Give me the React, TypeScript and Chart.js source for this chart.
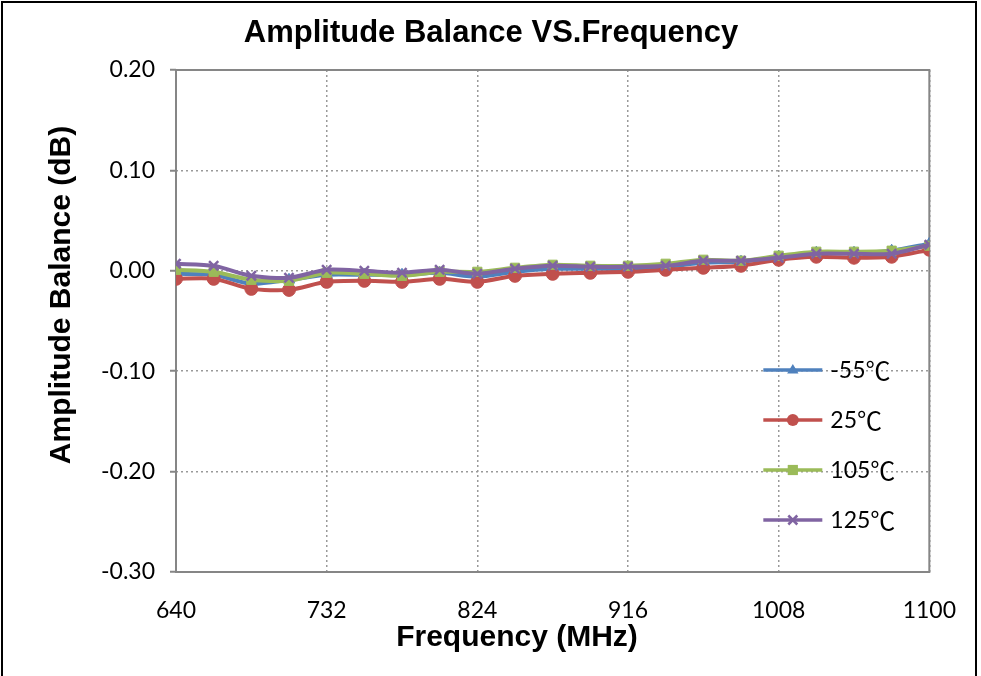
import React, { useEffect, useRef } from 'react';
import { Chart, registerables } from 'chart.js';

Chart.register(...registerables);

const frequencies = [640, 663, 686, 709, 732, 755, 778, 801, 824, 847, 870, 893, 916, 939, 962, 985, 1008, 1031, 1054, 1077, 1100];
const seriesM55 = [-0.003, -0.004, -0.013, -0.009, -0.004, -0.004, -0.004, -0.002, -0.006, -0.001, 0.002, 0.002, 0.002, 0.004, 0.008, 0.009, 0.014, 0.018, 0.018, 0.020, 0.027];
const series25 = [-0.008, -0.008, -0.018, -0.019, -0.011, -0.010, -0.011, -0.008, -0.011, -0.005, -0.003, -0.002, -0.001, 0.001, 0.003, 0.005, 0.011, 0.014, 0.013, 0.014, 0.021];
const series105 = [0.001, -0.001, -0.009, -0.010, -0.002, -0.003, -0.005, -0.001, -0.001, 0.003, 0.006, 0.005, 0.005, 0.007, 0.011, 0.010, 0.015, 0.019, 0.019, 0.020, 0.025];
const series125 = [0.007, 0.005, -0.005, -0.007, 0.001, 0.000, -0.002, 0.001, -0.003, 0.002, 0.005, 0.004, 0.004, 0.005, 0.010, 0.010, 0.013, 0.017, 0.017, 0.017, 0.026];
const seriesTemps = ['-55', '25', '105', '125'];
const unitLabel = '℃';
const seriesLabels = seriesTemps.map((t) => t + unitLabel);
const seriesColors = ['#4F81BD', '#C0504D', '#9BBB59', '#8064A2'];
const seriesMarkers = ['triangle', 'circle', 'rect', 'crossRot'];
const chartTitle = 'Amplitude Balance VS.Frequency';
const xTitle = 'Frequency (MHz)';
const yTitle = 'Amplitude Balance (dB)';
const xMin = 640;
const xMax = 1100;
const xStep = 92;
const yMin = -0.3;
const yMax = 0.2;
const yStep = 0.1;

const TICK_FONT = 'Lato, "Open Sans", sans-serif';
const CJK_FONT = '"Noto Sans CJK SC", "Noto Sans CJK JP", sans-serif';
const TITLE_FONT = '"Liberation Sans", Arial, sans-serif';
const BORDER_GRAY = '#868686';
const GRID_GRAY = '#999999';

function drawMarker(ctx: CanvasRenderingContext2D, kind: string, x: number, y: number, r: number, color: string) {
  ctx.save();
  ctx.fillStyle = color;
  ctx.strokeStyle = color;
  ctx.lineWidth = 2.5;
  ctx.beginPath();
  if (kind === 'triangle') {
    ctx.moveTo(x, y - r);
    ctx.lineTo(x + r * 0.95, y + r * 0.6);
    ctx.lineTo(x - r * 0.95, y + r * 0.6);
    ctx.closePath();
    ctx.fill();
  } else if (kind === 'circle') {
    ctx.arc(x, y, r, 0, Math.PI * 2);
    ctx.fill();
  } else if (kind === 'rect') {
    ctx.rect(x - r * 0.85, y - r * 0.85, r * 1.7, r * 1.7);
    ctx.fill();
  } else {
    const d = r * 0.75;
    ctx.moveTo(x - d, y - d);
    ctx.lineTo(x + d, y + d);
    ctx.moveTo(x + d, y - d);
    ctx.lineTo(x - d, y + d);
    ctx.stroke();
  }
  ctx.restore();
}

const plotFramePlugin = {
  id: 'plotFrame',
  beforeDatasetsDraw(chart: any) {
    const { ctx, chartArea } = chart;
    ctx.save();
    ctx.strokeStyle = BORDER_GRAY;
    ctx.lineWidth = 2;
    ctx.strokeRect(chartArea.left, chartArea.top, chartArea.right - chartArea.left, chartArea.bottom - chartArea.top);
    ctx.restore();
  },
};

const titlesPlugin = {
  id: 'titles',
  afterDraw(chart: any) {
    const { ctx } = chart;
    ctx.save();
    ctx.fillStyle = '#000';
    ctx.textAlign = 'center';
    ctx.textBaseline = 'middle';
    ctx.font = `bold 31px ${TITLE_FONT}`;
    ctx.fillText(chartTitle, 491, 33);
    ctx.font = `bold 30px ${TITLE_FONT}`;
    ctx.fillText(xTitle, 517, 638);
    ctx.translate(62, 295);
    ctx.rotate(-Math.PI / 2);
    ctx.fillText(yTitle, 0, 0);
    ctx.restore();
  },
};

const insideLegendPlugin = {
  id: 'insideLegend',
  afterDraw(chart: any) {
    const { ctx, chartArea } = chart;
    const x0 = chartArea.right - 166;
    const lineLen = 59;
    const y0 = 370;
    const gap = 50;
    ctx.save();
    seriesTemps.forEach((temp, i) => {
      const y = y0 + i * gap;
      ctx.strokeStyle = seriesColors[i];
      ctx.lineWidth = 3.5;
      ctx.beginPath();
      ctx.moveTo(x0, y);
      ctx.lineTo(x0 + lineLen, y);
      ctx.stroke();
      drawMarker(ctx, seriesMarkers[i], x0 + lineLen / 2, y, 6, seriesColors[i]);
      ctx.fillStyle = '#000';
      ctx.textAlign = 'left';
      ctx.textBaseline = 'middle';
      ctx.font = `23px ${TICK_FONT}`;
      const tx = x0 + lineLen + 8;
      ctx.fillText(temp, tx, y + 1);
      const w = ctx.measureText(temp).width;
      ctx.font = `25px ${CJK_FONT}`;
      ctx.fillText(unitLabel, tx + w, y);
    });
    ctx.restore();
  },
};

function makeDataset(label: string, values: number[], i: number, order: number) {
  return {
    label,
    data: frequencies.map((f, k) => ({ x: f, y: values[k] })),
    borderColor: seriesColors[i],
    backgroundColor: seriesColors[i],
    borderWidth: 4,
    pointStyle: seriesMarkers[i] as any,
    pointRadius: 6.5,
    pointBorderWidth: i === 3 ? 2.5 : 1,
    pointBackgroundColor: seriesColors[i],
    pointBorderColor: seriesColors[i],
    tension: 0.25,
    order,
  };
}

export default function App() {
  const canvasRef = useRef<HTMLCanvasElement | null>(null);

  useEffect(() => {
    if (!canvasRef.current) return;
    const chart = new Chart(canvasRef.current, {
      type: 'line',
      data: {
        datasets: [
          makeDataset(seriesLabels[0], seriesM55, 0, 3),
          makeDataset(seriesLabels[1], series25, 1, 2),
          makeDataset(seriesLabels[2], series105, 2, 1),
          makeDataset(seriesLabels[3], series125, 3, 0),
        ],
      },
      options: {
        animation: false,
        responsive: false,
        maintainAspectRatio: false,
        devicePixelRatio: 1,
        layout: { padding: { left: 0, right: 49, top: 70, bottom: 0 } },
        plugins: {
          legend: { display: false },
          tooltip: { enabled: false },
          title: { display: false },
        },
        scales: {
          x: {
            type: 'linear',
            min: xMin,
            max: xMax,
            afterFit(scale: any) {
              scale.height = 104;
            },
            ticks: {
              stepSize: xStep,
              color: '#000',
              font: { family: TICK_FONT, size: 23 },
              padding: 25,
              maxRotation: 0,
              autoSkip: false,
              callback: (v: any) => String(v),
            },
            grid: {
              color: GRID_GRAY,
              lineWidth: 1.5,
              drawTicks: false,
            },
            border: { display: false, dash: [2, 3] },
          },
          y: {
            type: 'linear',
            min: yMin,
            max: yMax,
            afterFit(scale: any) {
              scale.width = 176;
            },
            ticks: {
              stepSize: yStep,
              color: '#000',
              font: { family: TICK_FONT, size: 23 },
              padding: 15,
              callback: (v: any) => Number(v).toFixed(2),
            },
            grid: {
              color: GRID_GRAY,
              lineWidth: 1.5,
              drawTicks: true,
              tickLength: 6,
              tickColor: BORDER_GRAY,
              tickWidth: 2,
            },
            border: { display: false, dash: [2, 3] },
          },
        },
      },
      plugins: [plotFramePlugin, titlesPlugin, insideLegendPlugin],
    } as any);
    return () => chart.destroy();
  }, []);

  return (
    <div style={{ position: 'absolute', left: 0, top: 0, width: 981, height: 676, background: '#fff', overflow: 'hidden' }}>
      <canvas ref={canvasRef} width={981} height={676} style={{ position: 'absolute', left: 0, top: 0, width: 981, height: 676 }} />
      <div
        style={{
          position: 'absolute',
          left: 1,
          top: 1,
          width: 972,
          height: 680,
          borderLeft: '2px solid #000',
          borderTop: '2px solid #000',
          borderRight: '2px solid #000',
          pointerEvents: 'none',
        }}
      />
    </div>
  );
}
